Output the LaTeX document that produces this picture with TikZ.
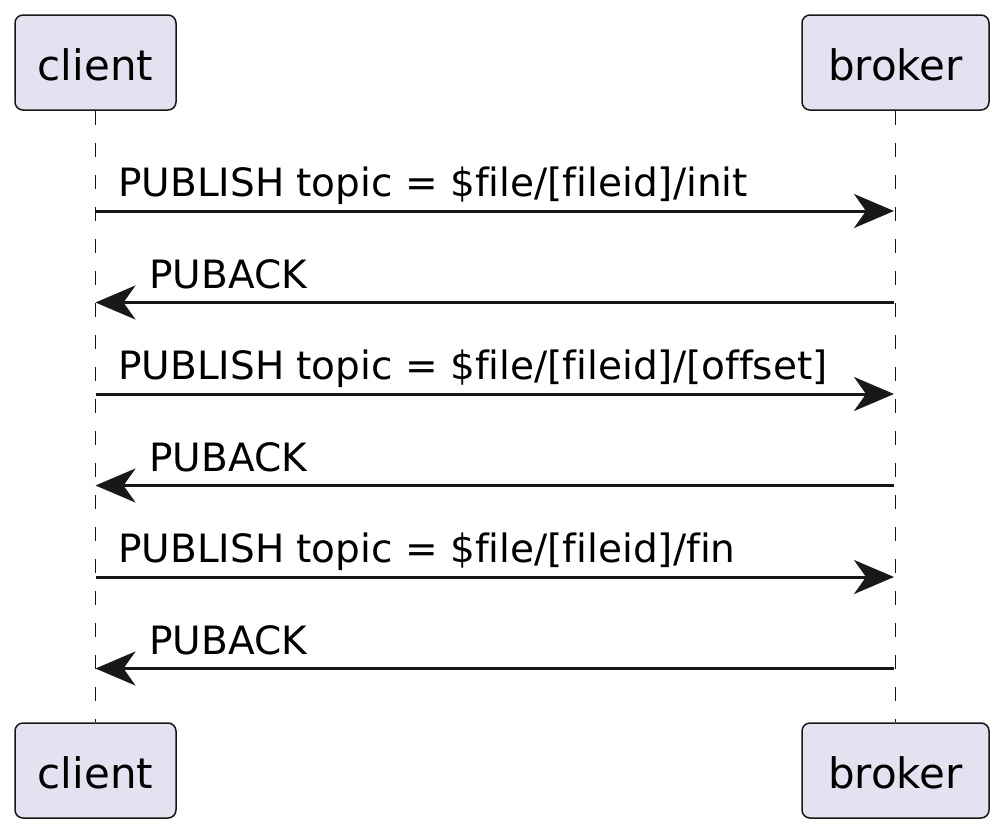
\documentclass[tikz,border=0pt]{standalone}
\usepackage{fontspec}
\setmainfont[Ligatures={NoCommon}]{DejaVu Sans}
\usetikzlibrary{arrows.meta}
\definecolor{umlline}{HTML}{181818}
\definecolor{umlfill}{HTML}{E2E2F0}
\tikzset{
  participant/.style={draw=umlline, fill=umlfill, line width=1.5pt, rounded corners=8pt,
    minimum height=95pt, inner sep=0pt, text height=35pt, text depth=0pt,
    font=\fontsize{42}{50}\selectfont, text=black},
  lifeline/.style={draw=umlline, line width=1.6pt, dash pattern=on 14pt off 18pt},
  msg/.style={draw=umlline, line width=3pt, -{Stealth[length=40pt, width=34pt, inset=12pt]}},
  msglabel/.style={anchor=base west, inner sep=0pt, font=\fontsize{39}{47}\selectfont, text=black}
}
\begin{document}
\begin{tikzpicture}[x=1pt, y=-1pt]
\useasboundingbox[fill=white] (0,0) rectangle (1004,833);
% participants
\node[participant, minimum width=161pt] (ct) at (95.5,62.5) {client};
\node[participant, minimum width=187pt] (bt) at (895.5,62.5) {broker};
\node[participant, minimum width=161pt] (cb) at (95.5,770.5) {client};
\node[participant, minimum width=187pt] (bb) at (895.5,770.5) {broker};
% lifelines
\draw[lifeline] (ct.south) -- (cb.north);
\draw[lifeline] (bt.south) -- (bb.north);
% message end points
\foreach \i/\y in {1/211,2/302.5,3/394,4/485.5,5/577,6/668.5}{
  \coordinate (c\i) at (95.5,\y);
  \coordinate (b\i) at (894,\y);
}
% messages
\draw[msg] (c1) -- (b1);
\node[msglabel] (m1) at (118,196.5) {PUBLISH topic = \$file/[fileid]/init};
\draw[msg] (b2) -- (c2);
\node[msglabel] (m2) at (149,288) {PUBACK};
\draw[msg] (c3) -- (b3);
\node[msglabel] (m3) at (118,379.5) {PUBLISH topic = \$file/[fileid]/[offset]};
\draw[msg] (b4) -- (c4);
\node[msglabel] (m4) at (149,471) {PUBACK};
\draw[msg] (c5) -- (b5);
\node[msglabel] (m5) at (118,562.5) {PUBLISH topic = \$file/[fileid]/fin};
\draw[msg] (b6) -- (c6);
\node[msglabel] (m6) at (149,654) {PUBACK};
\end{tikzpicture}
\end{document}
